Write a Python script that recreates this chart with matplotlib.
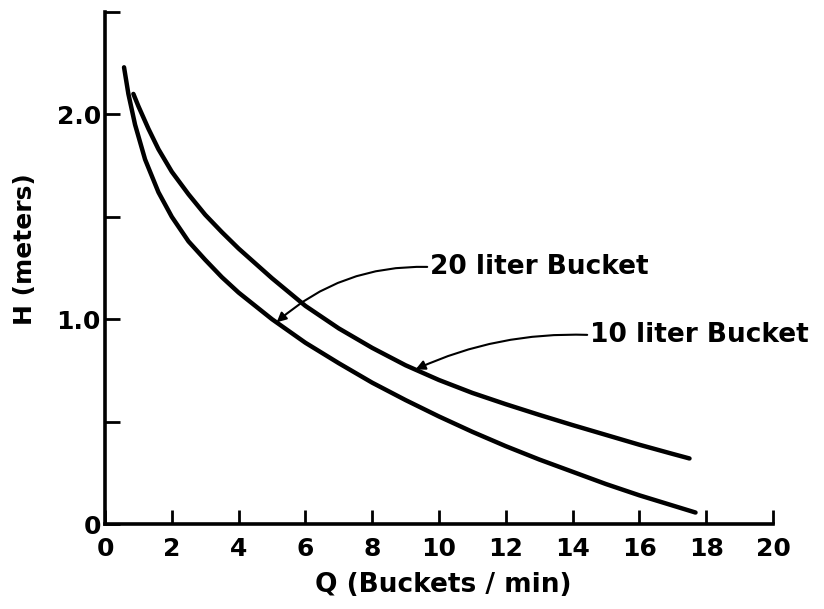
import numpy as np
import matplotlib.pyplot as plt

# curves (Q in buckets/min, H in meters)
q_20 = [0.57, 0.7, 0.9, 1.2, 1.6, 2.0, 2.5, 3.0, 3.5, 4.0, 5.0, 6.0, 7.0, 8.0,
        9.0, 10.0, 11.0, 12.0, 13.0, 14.0, 15.0, 16.0, 17.0, 17.68]
h_20 = [2.23, 2.10, 1.95, 1.78, 1.62, 1.50, 1.38, 1.29, 1.205, 1.13, 1.00, 0.885, 0.785, 0.69,
        0.605, 0.525, 0.45, 0.38, 0.315, 0.255, 0.195, 0.14, 0.09, 0.056]

q_10 = [0.85, 1.0, 1.3, 1.6, 2.0, 2.5, 3.0, 3.5, 4.0, 5.0, 6.0, 7.0, 8.0,
        9.0, 10.0, 11.0, 12.0, 13.0, 14.0, 15.0, 16.0, 17.0, 17.5]
h_10 = [2.10, 2.04, 1.93, 1.83, 1.72, 1.61, 1.51, 1.425, 1.345, 1.20, 1.065, 0.955, 0.86,
        0.775, 0.703, 0.64, 0.585, 0.533, 0.483, 0.435, 0.387, 0.342, 0.32]

x_ticks = [0, 2, 4, 6, 8, 10, 12, 14, 16, 18, 20]
y_ticks = [0, 0.5, 1.0, 1.5, 2.0, 2.5]
y_labels = ['0', '', '1.0', '', '2.0', '']

fnt = dict(family='DejaVu Sans', weight='bold')

fig = plt.figure(figsize=(8.24, 6.09), dpi=100)
ax = fig.add_axes([105/824, 1 - 524/609, 668/824, 512/609])

ax.plot(q_20, h_20, color='black', lw=3.2, solid_capstyle='round', solid_joinstyle='round')
ax.plot(q_10, h_10, color='black', lw=3.2, solid_capstyle='round', solid_joinstyle='round')

ax.set_xlim(0, 20)
ax.set_ylim(0, 2.5)
for s in ['top', 'right']:
    ax.spines[s].set_visible(False)
for s in ['left', 'bottom']:
    ax.spines[s].set_linewidth(2.6)

ax.set_xticks(x_ticks)
ax.set_xticklabels([str(t) for t in x_ticks], fontsize=18, **fnt)
ax.set_yticks(y_ticks)
ax.set_yticklabels(y_labels, fontsize=18, **fnt)
ax.tick_params(axis='x', direction='in', length=10, width=2, pad=9)
ax.tick_params(axis='y', direction='in', length=11, width=2, pad=3)

ax.set_xlabel('Q (Buckets / min)', fontsize=19, va='center', **fnt)
ax.xaxis.set_label_coords(0.506, -0.119)
ax.set_ylabel('H (meters)', fontsize=18, va='center', **fnt)
ax.yaxis.set_label_coords(-0.12, 0.537)

arw = dict(arrowstyle='-|>', color='black', lw=1.5, mutation_scale=14,
           shrinkA=0, shrinkB=0, relpos=(0, 0.5))
ax.annotate('20 liter Bucket', xy=(5.14, 0.985), xytext=(9.73, 1.255),
            ha='left', va='center', fontsize=19,
            arrowprops=dict(arw, connectionstyle='arc3,rad=0.2'), **fnt)
ax.annotate('10 liter Bucket', xy=(9.3, 0.755), xytext=(14.52, 0.923),
            ha='left', va='center', fontsize=19,
            arrowprops=dict(arw, connectionstyle='arc3,rad=0.12'), **fnt)

fig.savefig('out.png', dpi=100)
